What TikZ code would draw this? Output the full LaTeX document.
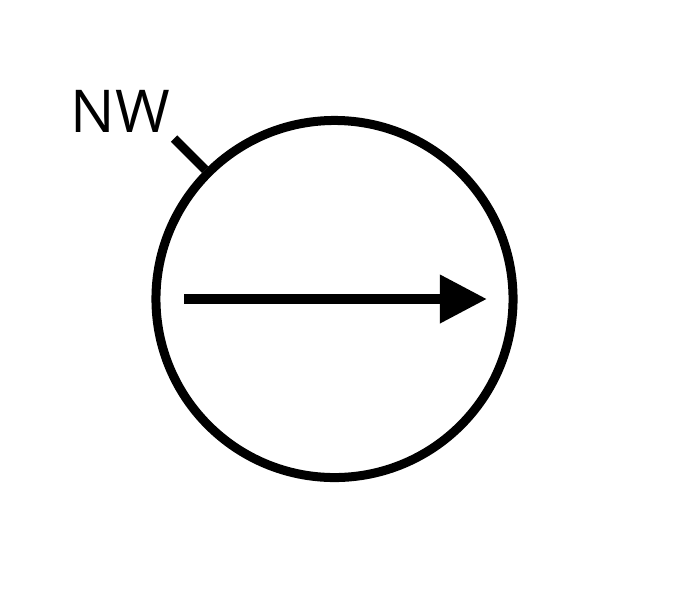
\documentclass[tikz,border=0pt]{standalone}
\usepackage{fontspec}
\setsansfont{Open Sans}
\usetikzlibrary{arrows.meta,calc}
\tikzset{srcnode/.style={draw,circle,line width=0.225cm,minimum size=8.925cm,inner sep=0pt}, arr/.style={-{Triangle[length=1.175cm,width=1.15cm]},line width=0.25cm}, tick/.style={line width=0.225cm}, pinlbl/.style={inner sep=0pt,font=\sffamily\fontsize{42}{50}\selectfont}}
\begin{document}
\begin{tikzpicture}[x=0.025cm,y=-0.025cm]
\useasboundingbox (0,0) rectangle (676,600);
\node[srcnode] (src) at (334.5,299) {};
\coordinate (tail) at ($(src.center)+(-150.5,0)$);
\coordinate (head) at ($(src.center)+(152.5,0)$);
\draw[arr](tail)--(head);
\draw[tick](src.north west)--++(-31,-31) coordinate (pinend);
\node[pinlbl,anchor=base east] (nw) at ($(pinend)+(-4,-6)$) {NW};
\end{tikzpicture}
\end{document}
